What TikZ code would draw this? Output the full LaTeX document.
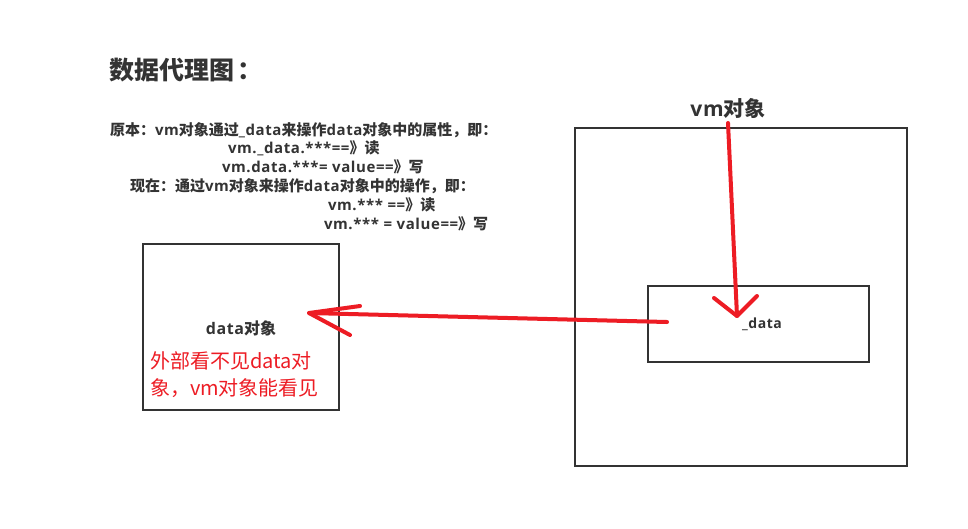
\documentclass[tikz,border=0pt]{standalone}
\usepackage{fontspec}
\setmainfont{Noto Sans CJK SC}
\newfontfamily\lat[LetterSpace=4]{Open Sans}
\newcommand\Lt[1]{{\lat #1}}
\begin{document}
\begin{tikzpicture}[x=1pt,y=-1pt,
  every node/.style={inner sep=0pt,outer sep=0pt,text=ink},
  box/.style={draw=ink,line width=2pt},
  strong/.style={font=\bfseries\fontsize{15}{17}\selectfont},
  pen/.style={draw=mark red,line width=4pt,line cap=round,line join=round}]
\definecolor{ink}{HTML}{333333}
\definecolor{mark red}{HTML}{ED1C24}
\useasboundingbox[fill=white] (0,0) rectangle (968,528);

% heading
\node[anchor=west,font=\bfseries\fontsize{25}{28}\selectfont] (title) at (109,70) {数据代理图\hspace{3pt}：};

% explanation lines
\node[strong,anchor=west] (l1) at (110,130) {原本：\Lt{vm}对象通过\Lt{\_data}来操作\Lt{data}对象中的属性，即：};
\node[strong,anchor=west] (l2) at (228,148) {\Lt{vm.\_data.***==}》读};
\node[strong,anchor=west] (l3) at (222,167) {\Lt{vm.data.***= value==}》写};
\node[strong,anchor=west] (l4) at (130,186) {现在：通过\Lt{vm}对象来操作\Lt{data}对象中的操作，即：};
\node[strong,anchor=west] (l5) at (328,205) {\Lt{vm.*** ==}》读};
\node[strong,anchor=west] (l6) at (324,224) {\Lt{vm.*** = value==}》写};

% data object
\draw[box] (143,244) rectangle (339,410);
\node[font=\bfseries\fontsize{16}{18}\selectfont] (dataobj) at (241,328) {\Lt{data}对象};
\node[anchor=west,text=mark red,font=\fontsize{20}{27}\selectfont,align=left] (hidden) at (150,375)
  {外部看不见data对\\象，vm对象能看见};

% vm object with its _data
\draw[box] (575,128) rectangle (907,466);
\node[font=\bfseries\fontsize{21}{24}\selectfont] (vm) at (728,108) {\Lt{vm}对象};
\draw[box] (648,286) rectangle (869,362);
\node[font=\bfseries\fontsize{14}{16}\selectfont] (inner) at (762,324) {\Lt{\_data}};

% hand-drawn arrows
\coordinate (vtop) at (728,123);
\coordinate (vtip) at (737,316);
\draw[pen] (vtop) -- (vtip);
\draw[pen] (714,298) -- (vtip) -- (757,296);

\coordinate (htail) at (667,322);
\coordinate (htip) at (309,313);
\draw[pen] (htail) -- (htip);
\draw[pen] (360,306) -- (htip) -- (350,335);
\end{tikzpicture}
\end{document}
